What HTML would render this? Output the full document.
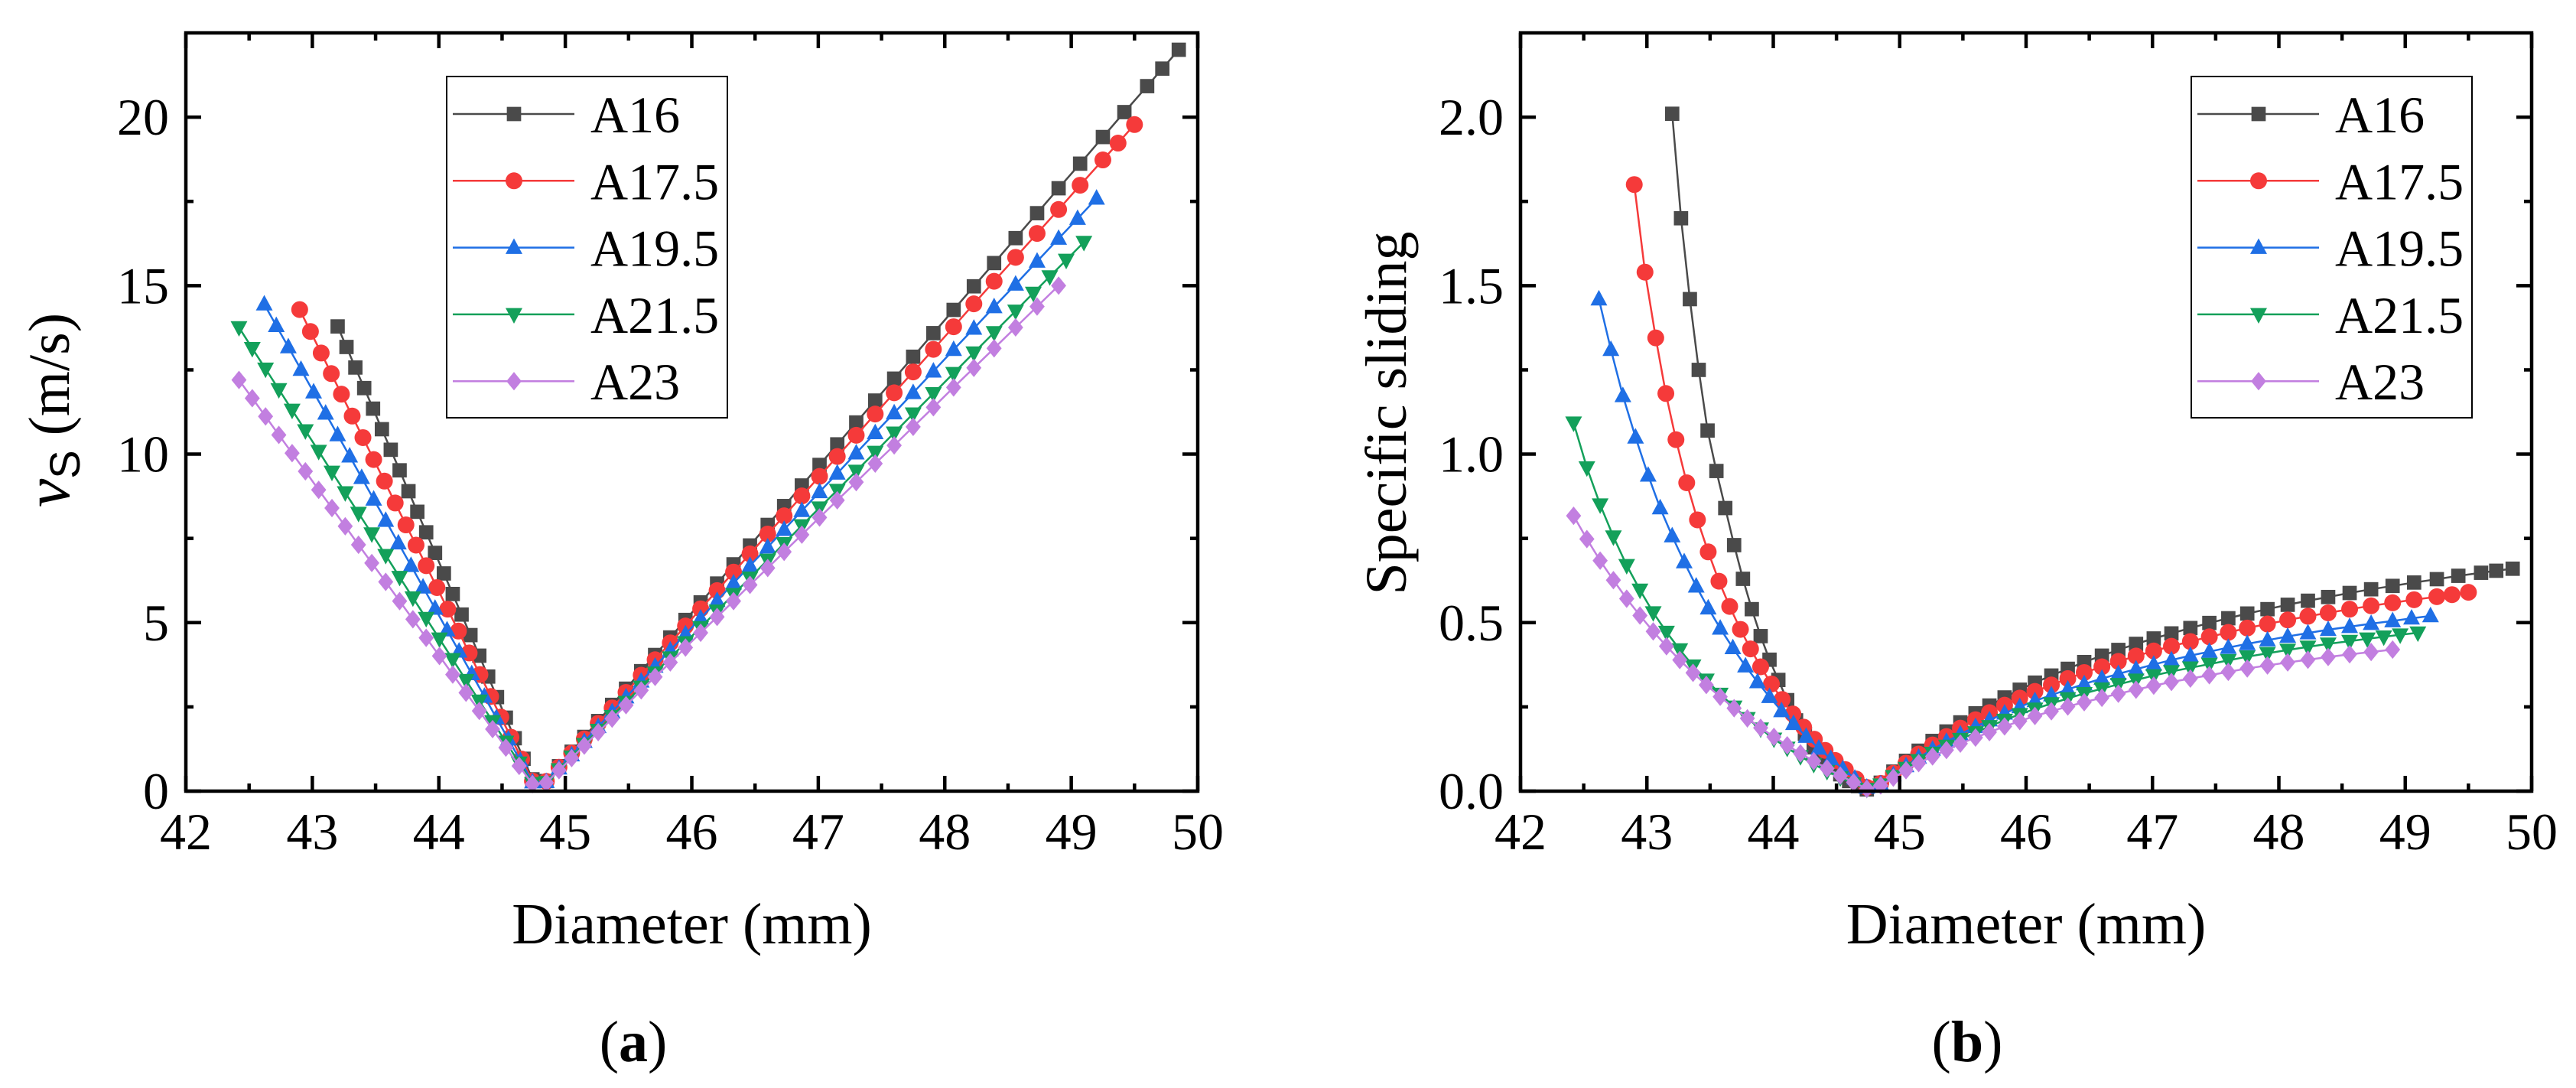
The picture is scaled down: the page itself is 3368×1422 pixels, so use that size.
<!DOCTYPE html>
<html><head><meta charset="utf-8">
<style>
html,body{margin:0;padding:0;background:#fff;}
svg{display:block;font-family:"Liberation Serif",serif;}
svg text{font-family:"Liberation Serif",serif;fill:#000;}
</style></head>
<body>
<svg id="chart" width="3368" height="1422" viewBox="0 0 3368 1422" xmlns="http://www.w3.org/2000/svg" font-family="Liberation Serif, serif"></svg>
<script>
// ---- Data ----
const seriesNames = ["A16","A17.5","A19.5","A21.5","A23"];
const seriesColors = ["#4a4a4a","#f53a3a","#1f6fe5","#13a05a","#c27fe0"];
const seriesMarkers = ["square","circle","triangle","tridown","diamond"];

const xA16 = [43.20,43.27,43.34,43.41,43.48,43.55,43.62,43.69,43.76,43.83,43.90,43.97,44.04,44.11,44.18,44.25,44.32,44.39,44.46,44.53,44.60,44.67,44.74,44.85,44.95,45.05,45.15,45.26,45.37,45.48,45.60,45.71,45.83,45.95,46.07,46.20,46.33,46.46,46.60,46.73,46.87,47.01,47.15,47.30,47.45,47.60,47.75,47.91,48.07,48.23,48.39,48.56,48.73,48.90,49.07,49.25,49.42,49.60,49.72,49.85];
const vA16 = [13.79,13.18,12.57,11.96,11.35,10.74,10.13,9.52,8.90,8.29,7.68,7.07,6.46,5.85,5.24,4.63,4.02,3.40,2.79,2.18,1.57,0.96,0.35,0.30,0.74,1.17,1.61,2.08,2.56,3.04,3.56,4.04,4.56,5.08,5.60,6.16,6.73,7.29,7.90,8.46,9.07,9.68,10.29,10.94,11.59,12.24,12.89,13.59,14.28,14.98,15.67,16.41,17.15,17.89,18.62,19.41,20.15,20.92,21.44,22.00];
const sA16 = [2.01,1.70,1.46,1.25,1.07,0.95,0.84,0.73,0.63,0.54,0.46,0.39,0.33,0.27,0.21,0.17,0.13,0.10,0.07,0.05,0.03,0.015,0.005,0.025,0.058,0.090,0.120,0.149,0.177,0.204,0.231,0.254,0.278,0.301,0.322,0.343,0.363,0.383,0.402,0.419,0.437,0.453,0.468,0.484,0.499,0.513,0.527,0.540,0.553,0.565,0.576,0.588,0.599,0.609,0.619,0.629,0.639,0.648,0.654,0.660];

const xA175 = [42.90,42.985,43.07,43.15,43.23,43.315,43.40,43.485,43.57,43.655,43.74,43.82,43.90,43.985,44.07,44.155,44.24,44.325,44.41,44.49,44.57,44.655,44.74,44.85,44.95,45.05,45.15,45.26,45.37,45.48,45.60,45.71,45.83,45.95,46.07,46.20,46.33,46.46,46.60,46.73,46.87,47.01,47.15,47.30,47.45,47.60,47.75,47.91,48.07,48.23,48.39,48.56,48.73,48.90,49.07,49.25,49.37,49.50];
const vA175 = [14.29,13.64,13.00,12.39,11.78,11.13,10.49,9.84,9.20,8.55,7.90,7.30,6.69,6.04,5.40,4.75,4.10,3.46,2.81,2.20,1.60,0.95,0.30,0.29,0.71,1.13,1.55,2.01,2.47,2.93,3.44,3.90,4.40,4.90,5.41,5.95,6.50,7.04,7.63,8.17,8.76,9.34,9.93,10.56,11.19,11.82,12.44,13.11,13.78,14.46,15.13,15.84,16.55,17.26,17.98,18.73,19.23,19.78];
const sA175 = [1.80,1.54,1.345,1.18,1.043,0.915,0.805,0.71,0.623,0.548,0.480,0.422,0.369,0.318,0.272,0.229,0.190,0.154,0.121,0.091,0.064,0.036,0.011,0.023,0.053,0.083,0.110,0.137,0.162,0.187,0.212,0.233,0.255,0.276,0.296,0.315,0.334,0.352,0.369,0.385,0.401,0.416,0.430,0.444,0.458,0.471,0.484,0.496,0.508,0.519,0.529,0.540,0.550,0.559,0.568,0.577,0.583,0.590];

const xA195 = [42.62,42.715,42.81,42.91,43.01,43.105,43.20,43.295,43.39,43.485,43.58,43.68,43.78,43.875,43.97,44.065,44.16,44.26,44.36,44.455,44.55,44.645,44.74,44.85,44.95,45.05,45.15,45.26,45.37,45.48,45.60,45.71,45.83,45.95,46.07,46.20,46.33,46.46,46.60,46.73,46.87,47.01,47.15,47.30,47.45,47.60,47.75,47.91,48.07,48.23,48.39,48.56,48.73,48.90,49.05,49.20];
const vA195 = [14.45,13.81,13.18,12.51,11.84,11.21,10.57,9.94,9.30,8.66,8.03,7.36,6.69,6.05,5.42,4.78,4.15,3.48,2.81,2.17,1.54,0.90,0.27,0.28,0.68,1.07,1.47,1.91,2.35,2.79,3.26,3.70,4.18,4.66,5.13,5.65,6.17,6.69,7.24,7.76,8.32,8.88,9.43,10.03,10.63,11.22,11.82,12.46,13.10,13.73,14.37,15.04,15.72,16.40,16.99,17.59];
const sA195 = [1.46,1.31,1.173,1.05,0.937,0.84,0.757,0.68,0.608,0.543,0.483,0.425,0.371,0.324,0.280,0.238,0.200,0.162,0.127,0.096,0.066,0.038,0.011,0.021,0.048,0.075,0.100,0.124,0.147,0.169,0.191,0.211,0.231,0.250,0.268,0.285,0.302,0.318,0.334,0.348,0.362,0.376,0.389,0.402,0.414,0.426,0.437,0.448,0.459,0.469,0.479,0.488,0.497,0.505,0.513,0.520];

const xA215 = [42.42,42.525,42.63,42.735,42.84,42.945,43.05,43.155,43.26,43.365,43.47,43.58,43.69,43.795,43.90,44.005,44.11,44.215,44.32,44.425,44.53,44.635,44.74,44.85,44.95,45.05,45.15,45.26,45.37,45.48,45.60,45.71,45.83,45.95,46.07,46.20,46.33,46.46,46.60,46.73,46.87,47.01,47.15,47.30,47.45,47.60,47.75,47.91,48.07,48.23,48.39,48.56,48.70,48.83,48.96,49.10];
const vA215 = [13.76,13.14,12.53,11.92,11.31,10.70,10.09,9.47,8.86,8.25,7.64,7.00,6.35,5.74,5.13,4.52,3.91,3.29,2.68,2.07,1.46,0.84,0.23,0.26,0.64,1.02,1.39,1.81,2.22,2.64,3.09,3.51,3.96,4.41,4.86,5.35,5.84,6.33,6.86,7.35,7.88,8.41,8.93,9.50,10.06,10.63,11.20,11.80,12.40,13.01,13.61,14.25,14.78,15.27,15.76,16.29];
const sA215 = [1.093,0.96,0.850,0.755,0.670,0.597,0.530,0.472,0.420,0.372,0.330,0.288,0.250,0.216,0.185,0.155,0.128,0.103,0.080,0.059,0.040,0.022,0.006,0.019,0.044,0.068,0.091,0.113,0.134,0.154,0.174,0.192,0.211,0.228,0.244,0.260,0.275,0.290,0.304,0.317,0.330,0.343,0.355,0.366,0.377,0.388,0.399,0.409,0.419,0.428,0.437,0.445,0.452,0.458,0.464,0.470];

const xA23 = [42.42,42.525,42.63,42.735,42.84,42.945,43.05,43.155,43.26,43.365,43.47,43.58,43.69,43.795,43.90,44.005,44.11,44.215,44.32,44.425,44.53,44.635,44.74,44.85,44.95,45.05,45.15,45.26,45.37,45.48,45.60,45.71,45.83,45.95,46.07,46.20,46.33,46.46,46.60,46.73,46.87,47.01,47.15,47.30,47.45,47.60,47.75,47.91,48.07,48.23,48.39,48.56,48.73,48.90];
const vA23 = [12.20,11.66,11.12,10.57,10.03,9.49,8.94,8.40,7.86,7.31,6.77,6.21,5.64,5.10,4.55,4.01,3.46,2.92,2.38,1.84,1.29,0.75,0.21,0.25,0.62,0.98,1.35,1.75,2.15,2.55,2.99,3.39,3.82,4.26,4.70,5.17,5.64,6.12,6.62,7.10,7.61,8.12,8.63,9.17,9.72,10.26,10.81,11.39,11.98,12.56,13.14,13.76,14.38,15.00];
const sA23 = [0.817,0.748,0.684,0.626,0.571,0.521,0.474,0.430,0.389,0.351,0.315,0.280,0.246,0.216,0.188,0.161,0.136,0.112,0.089,0.067,0.046,0.026,0.007,0.017,0.040,0.062,0.083,0.103,0.122,0.141,0.159,0.175,0.192,0.208,0.223,0.237,0.251,0.264,0.277,0.289,0.301,0.313,0.324,0.334,0.344,0.354,0.364,0.373,0.382,0.390,0.398,0.406,0.413,0.420];

const xTicks = [42,43,44,45,46,47,48,49,50];
const yTicksA = [0,5,10,15,20];
const yTickLabelsA = ["0","5","10","15","20"];
const yTicksB = [0,0.5,1.0,1.5,2.0];
const yTickLabelsB = ["0.0","0.5","1.0","1.5","2.0"];

const xs = [xA16,xA175,xA195,xA215,xA23];
const vs = [vA16,vA175,vA195,vA215,vA23];
const ss = [sA16,sA175,sA195,sA215,sA23];

const NS = "http://www.w3.org/2000/svg";
const svg = document.getElementById("chart");
const SERIF = "Liberation Serif, serif";
function mk(tag, attrs, parent){
  const e = document.createElementNS(NS, tag);
  for (const k in attrs) e.setAttribute(k, attrs[k]);
  (parent||svg).appendChild(e);
  return e;
}

function marker(g, type, cx, cy, color, r){
  let e;
  if (type==="square"){
    e = mk("rect",{x:cx-r*0.85,y:cy-r*0.85,width:r*1.7,height:r*1.7,fill:color},g);
  } else if (type==="circle"){
    e = mk("circle",{cx:cx,cy:cy,r:r,fill:color},g);
  } else if (type==="triangle"){
    e = mk("polygon",{points:`${cx},${cy-r*1.1} ${cx+r},${cy+r*0.75} ${cx-r},${cy+r*0.75}`,fill:color},g);
  } else if (type==="tridown"){
    e = mk("polygon",{points:`${cx},${cy+r*1.1} ${cx+r},${cy-r*0.75} ${cx-r},${cy-r*0.75}`,fill:color},g);
  } else {
    e = mk("polygon",{points:`${cx},${cy-r*1.1} ${cx+r*0.9},${cy} ${cx},${cy+r*1.1} ${cx-r*0.9},${cy}`,fill:color},g);
  }
  return e;
}

function panel(opt){
  const L=opt.left, R=opt.right, T=43, B=1034;
  const xMin=42, xMax=50, yMin=0, yMax=opt.yMax;
  const sx = v => L + (v-xMin)/(xMax-xMin)*(R-L);
  const sy = v => B - (v-yMin)/(yMax-yMin)*(B-T);
  const g = mk("g",{});
  
  

  for (let i=0;i<seriesNames.length;i++){
    const sg = mk("g",{},g);
    
    
    const X = xs[i], Y = opt.data[i];
    let d = "";
    for (let j=0;j<X.length;j++) d += (j?"L":"M")+sx(X[j]).toFixed(1)+","+sy(Y[j]).toFixed(1);
    const ln = mk("path",{d:d,fill:"none",stroke:seriesColors[i],"stroke-width":2.5},sg);
    
    
    for (let j=0;j<X.length;j++){
      const m = marker(sg, seriesMarkers[i], sx(X[j]), sy(Y[j]), seriesColors[i], 11);
      
      
    }
  }

  const fr = mk("rect",{x:L,y:T,width:R-L,height:B-T,fill:"none",stroke:"#000","stroke-width":4.5},g);
  
  

  for (let k=0;k<xTicks.length;k++){
    const v = xTicks[k], px = sx(v);
    mk("line",{x1:px,y1:B,x2:px,y2:B-20,stroke:"#000","stroke-width":4.5},g);
    mk("line",{x1:px,y1:T,x2:px,y2:T+20,stroke:"#000","stroke-width":4.5},g);
    if (k<xTicks.length-1){
      const pm = sx(v+0.5);
      mk("line",{x1:pm,y1:B,x2:pm,y2:B-10,stroke:"#000","stroke-width":4.5},g);
      mk("line",{x1:pm,y1:T,x2:pm,y2:T+10,stroke:"#000","stroke-width":4.5},g);
    }
    const t = mk("text",{x:px,y:1110,"font-size":68,"text-anchor":"middle","font-family":SERIF},g);
    t.textContent = String(v);
    
    
  }
  const yt = opt.yTicks, ylab = opt.yLabels, step = yt[1]-yt[0];
  for (let k=0;k<yt.length;k++){
    const py = sy(yt[k]);
    mk("line",{x1:L,y1:py,x2:L+20,y2:py,stroke:"#000","stroke-width":4.5},g);
    mk("line",{x1:R,y1:py,x2:R-20,y2:py,stroke:"#000","stroke-width":4.5},g);
    const pm = sy(yt[k]+step/2);
    if (yt[k]+step/2 < yMax){
      mk("line",{x1:L,y1:pm,x2:L+10,y2:pm,stroke:"#000","stroke-width":4.5},g);
      mk("line",{x1:R,y1:pm,x2:R-10,y2:pm,stroke:"#000","stroke-width":4.5},g);
    }
    const t = mk("text",{x:L-22,y:py+23,"font-size":68,"text-anchor":"end","font-family":SERIF},g);
    t.textContent = ylab[k];
    
    
  }
  const xt = mk("text",{x:(L+R)/2,y:1233,"font-size":76,"text-anchor":"middle","font-family":SERIF},g);
  xt.textContent = "Diameter (mm)";
  
  

  const lg = mk("g",{},g);
  
  
  const lx = opt.legendX;
  mk("rect",{x:lx,y:100,width:367,height:446,fill:"#fff",stroke:"#000","stroke-width":2},lg);
  for (let i=0;i<seriesNames.length;i++){
    const ey = 149 + i*87.3;
    const eg = mk("g",{},lg);
    
    
    mk("line",{x1:lx+8,y1:ey,x2:lx+167,y2:ey,stroke:seriesColors[i],"stroke-width":2.5},eg);
    marker(eg, seriesMarkers[i], lx+88, ey, seriesColors[i], 11);
    const t = mk("text",{x:lx+188,y:ey+24,"font-size":68,"font-family":SERIF},eg);
    t.textContent = seriesNames[i];
  }
  const pl = mk("text",{x:opt.labelX,y:1387,"font-size":76,"text-anchor":"middle","font-family":SERIF},g);
  pl.innerHTML = '(<tspan font-weight="bold">'+opt.label+'</tspan>)';
  
  
  return g;
}

panel({name:"panel-a-sliding-velocity",left:243,right:1566,yMax:22.5,data:vs,yTicks:yTicksA,yLabels:yTickLabelsA,legendX:584,label:"a",labelX:828});
panel({name:"panel-b-specific-sliding",left:1988,right:3310,yMax:2.25,data:ss,yTicks:yTicksB,yLabels:yTickLabelsB,legendX:2865,label:"b",labelX:2572});

const ya = mk("text",{x:0,y:0,"font-size":76,"text-anchor":"middle","font-family":SERIF,transform:"translate(90,536) rotate(-90)"});
ya.innerHTML = '<tspan font-style="italic" font-size="84">v</tspan><tspan font-family="Liberation Sans, sans-serif" font-size="56" dy="14">S</tspan><tspan dy="-14"> (m/s)</tspan>';


const yb = mk("text",{x:0,y:0,"font-size":76,"text-anchor":"middle","font-family":SERIF,transform:"translate(1838,540) rotate(-90)"});
yb.textContent = "Specific sliding";


</script>
</body></html>
